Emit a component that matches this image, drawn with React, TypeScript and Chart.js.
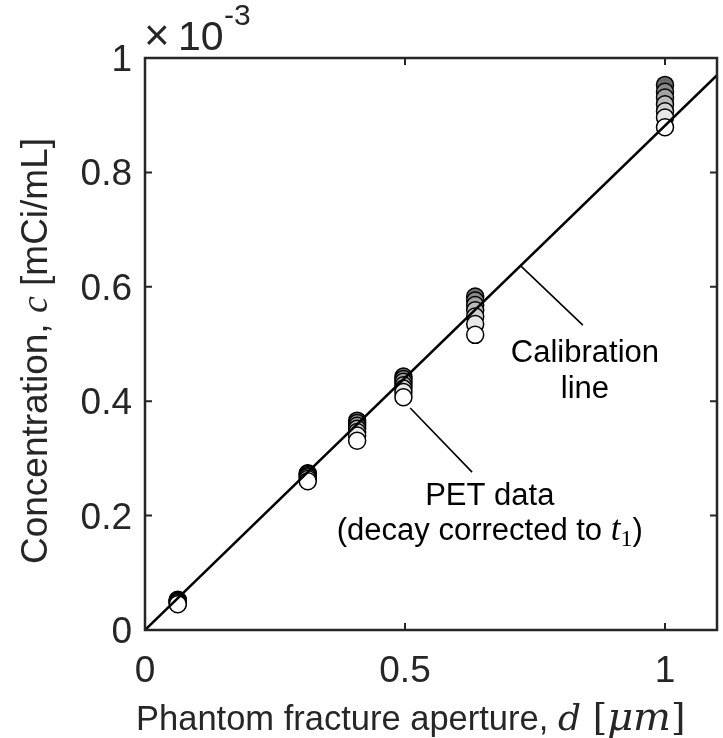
import React, { useEffect, useRef } from "react";
import { Chart, registerables } from "chart.js";

Chart.register(...registerables);

// Phantom fracture apertures d [μm]
const apertures = [0.063, 0.313, 0.408, 0.497, 0.635, 1.0];

// PET concentrations (×10^-3 mCi/mL), decay corrected to t1; one list per frame, earliest first
const frame1 = [0.053, 0.274, 0.366, 0.443, 0.583, 0.953];
const frame2 = [0.052, 0.273, 0.362, 0.439, 0.576, 0.941];
const frame3 = [0.051, 0.271, 0.357, 0.434, 0.568, 0.931];
const frame4 = [0.05, 0.269, 0.352, 0.428, 0.559, 0.919];
const frame5 = [0.049, 0.267, 0.346, 0.422, 0.548, 0.907];
const frame6 = [0.047, 0.264, 0.34, 0.416, 0.535, 0.896];
const frame7 = [0.045, 0.26, 0.331, 0.407, 0.516, 0.879];
const frames = [frame1, frame2, frame3, frame4, frame5, frame6, frame7];
const frameFills = ["#6b6b6b", "#8a8a8a", "#a2a2a2", "#b9b9b9", "#d0d0d0", "#e8e8e8", "#ffffff"];

// Calibration line end points (d, c×10^3)
const calibrationD = [0, 1.1];
const calibrationC = [0, 0.97];

// Axis ranges and ticks
const xRange = [0, 1.1];
const yRange = [0, 1];
const xTicks = [0, 0.5, 1];
const xTickLabels = ["0", "0.5", "1"];
const yTicks = [0, 0.2, 0.4, 0.6, 0.8, 1];
const yTickLabels = ["0", "0.2", "0.4", "0.6", "0.8", "1"];

const SANS = '"Liberation Sans", Arial, Helvetica, sans-serif';
const SERIF = '"Liberation Serif", "DejaVu Serif", serif';
const MATH = '"DejaVu Serif", "Liberation Serif", serif';
const AXIS_COLOR = "#262626";

type Seg = { text: string; font: string; dy?: number };

function drawRun(ctx: CanvasRenderingContext2D, segs: Seg[], x: number, y: number, align: "left" | "center") {
  let total = 0;
  for (const s of segs) {
    ctx.font = s.font;
    total += ctx.measureText(s.text).width;
  }
  let cx = align === "center" ? x - total / 2 : x;
  ctx.textAlign = "left";
  ctx.textBaseline = "alphabetic";
  for (const s of segs) {
    ctx.font = s.font;
    ctx.fillText(s.text, cx, y + (s.dy || 0));
    cx += ctx.measureText(s.text).width;
  }
}

const decorations = {
  id: "decorations",
  afterDatasetsDraw(chart: any) {
    const ctx: CanvasRenderingContext2D = chart.ctx;
    const xs = chart.scales.x;
    const ys = chart.scales.y;
    const { left, right, top, bottom } = chart.chartArea;
    const px = (v: number) => xs.getPixelForValue(v);
    const py = (v: number) => ys.getPixelForValue(v);

    ctx.save();
    // leader lines for the annotations
    ctx.strokeStyle = "#000";
    ctx.lineWidth = 1.6;
    ctx.beginPath();
    ctx.moveTo(px(0.722), py(0.637));
    ctx.lineTo(px(0.842), py(0.533));
    ctx.moveTo(px(0.51), py(0.388));
    ctx.lineTo(px(0.629), py(0.276));
    ctx.stroke();

    // annotation text
    ctx.fillStyle = "#000";
    const aSans = `31px ${SANS}`;
    drawRun(ctx, [{ text: "Calibration", font: aSans }], px(0.846), py(0.469), "center");
    drawRun(ctx, [{ text: "line", font: aSans }], px(0.846), py(0.406), "center");
    drawRun(ctx, [{ text: "PET data", font: aSans }], px(0.663), py(0.2185), "center");
    drawRun(
      ctx,
      [
        { text: "(decay corrected to ", font: aSans },
        { text: "t", font: `italic 35px ${SERIF}` },
        { text: "1", font: `24px ${SERIF}`, dy: 6 },
        { text: ")", font: aSans },
      ],
      px(0.663),
      py(0.157),
      "center"
    );

    // axes box with inward ticks
    ctx.strokeStyle = AXIS_COLOR;
    ctx.lineWidth = 2.5;
    ctx.strokeRect(left, top, right - left, bottom - top);
    const tl = 7;
    ctx.lineWidth = 2;
    ctx.beginPath();
    for (const v of xTicks) {
      const x = px(v);
      ctx.moveTo(x, bottom);
      ctx.lineTo(x, bottom - tl);
      ctx.moveTo(x, top);
      ctx.lineTo(x, top + tl);
    }
    for (const v of yTicks) {
      const y = py(v);
      ctx.moveTo(left, y);
      ctx.lineTo(left + tl, y);
      ctx.moveTo(right, y);
      ctx.lineTo(right - tl, y);
    }
    ctx.stroke();

    // tick labels
    ctx.fillStyle = AXIS_COLOR;
    ctx.font = `37px ${SANS}`;
    ctx.textBaseline = "alphabetic";
    ctx.textAlign = "center";
    xTicks.forEach((v, i) => ctx.fillText(xTickLabels[i], px(v), bottom + 52));
    ctx.textAlign = "right";
    yTicks.forEach((v, i) => ctx.fillText(yTickLabels[i], left - 13, py(v) + 13));

    // exponent label
    drawRun(ctx, [{ text: "×", font: `44px ${SANS}` }], left - 1, top - 8, "left");
    drawRun(ctx, [{ text: "10", font: `41px ${SANS}` }], left + 33, top - 8, "left");
    drawRun(ctx, [{ text: "-3", font: `30px ${SANS}` }], left + 79, top - 33, "left");

    // x axis title
    drawRun(
      ctx,
      [
        { text: "Phantom fracture aperture, ", font: `34.5px ${SANS}` },
        { text: "d", font: `italic 36px ${MATH}` },
        { text: " [", font: `37px ${MATH}` },
        { text: "μm", font: `italic 40px ${MATH}` },
        { text: "]", font: `37px ${MATH}` },
      ],
      136,
      730,
      "left"
    );

    // y axis title (rotated)
    ctx.save();
    ctx.translate(47, 351);
    ctx.rotate(-Math.PI / 2);
    drawRun(
      ctx,
      [
        { text: "Concentration, ", font: `37px ${SANS}` },
        { text: "c", font: `italic 38px ${SERIF}` },
        { text: " [mCi/mL]", font: `37px ${SANS}` },
      ],
      0,
      0,
      "center"
    );
    ctx.restore();
    ctx.restore();
  },
};

export default function App() {
  const ref = useRef<HTMLCanvasElement | null>(null);

  useEffect(() => {
    document.body.style.margin = "0";
    const canvas = ref.current;
    if (!canvas) return;

    const pointSets = frames.map((vals, k) => ({
      type: "scatter" as const,
      label: `frame ${k + 1}`,
      data: apertures.map((d, i) => ({ x: d, y: vals[i] })),
      backgroundColor: frameFills[k],
      borderColor: "#000",
      borderWidth: 1.5,
      pointRadius: 8.5,
      pointHoverRadius: 8.5,
      showLine: false,
      order: frames.length - k + 1,
    }));

    const chart = new Chart(canvas, {
      type: "scatter",
      data: {
        datasets: [
          {
            type: "line" as const,
            label: "Calibration line",
            data: calibrationD.map((d, i) => ({ x: d, y: calibrationC[i] })),
            borderColor: "#000",
            borderWidth: 2.5,
            pointRadius: 0,
            fill: false,
            order: 0,
          },
          ...pointSets,
        ] as any,
      },
      options: {
        responsive: false,
        animation: false,
        events: [],
        layout: { autoPadding: false, padding: { left: 145, top: 58, right: 6, bottom: 108 } },
        plugins: { legend: { display: false }, tooltip: { enabled: false } },
        scales: {
          x: { type: "linear", min: xRange[0], max: xRange[1], display: false },
          y: { type: "linear", min: yRange[0], max: yRange[1], display: false },
        },
      },
      plugins: [decorations],
    });
    return () => chart.destroy();
  }, []);

  return (
    <div style={{ width: 723, height: 738, background: "#fff" }}>
      <canvas ref={ref} width={723} height={738} style={{ display: "block" }} />
    </div>
  );
}
